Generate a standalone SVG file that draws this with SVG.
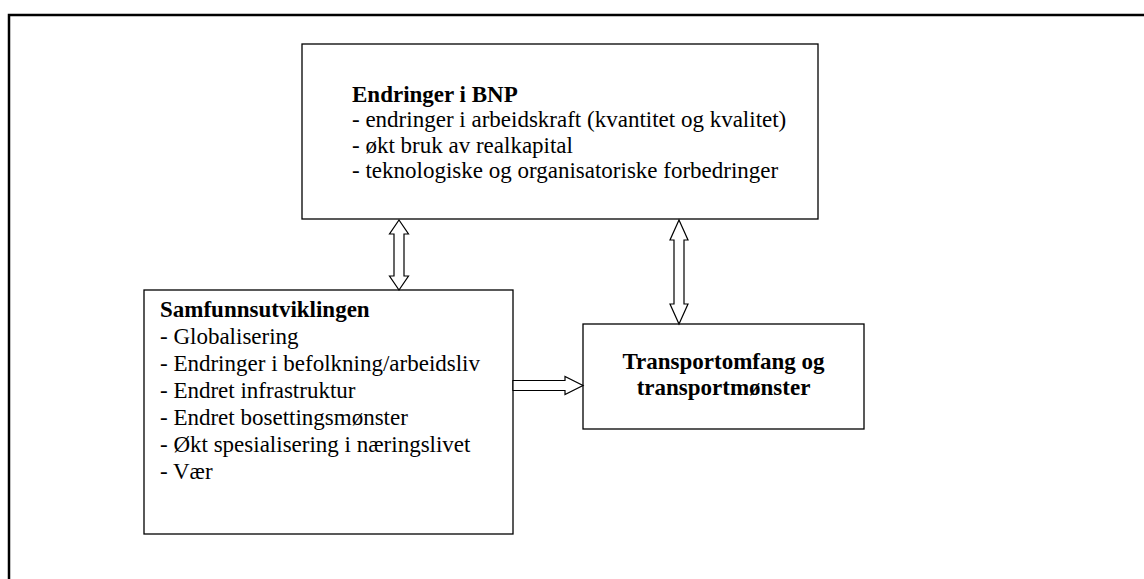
<svg xmlns="http://www.w3.org/2000/svg" width="1144" height="579" viewBox="0 0 1144 579">
<style>
.box{fill:#fff;stroke:#000;stroke-width:1.3}
.arr{fill:#fff;stroke:#000;stroke-width:1.2;stroke-linejoin:miter}
text{font-family:"Liberation Serif","Times New Roman",serif;font-size:23px;fill:#000}
.b{font-weight:bold}
</style>
<rect width="1144" height="579" fill="#fff"/>
<path d="M9 579 V15 H1144" fill="none" stroke="#000" stroke-width="2.5"/>
<g id="bnp">
<rect class="box" x="302" y="44" width="516" height="175"/>
<text x="352" y="102" class="b">Endringer i BNP</text>
<text x="352" y="127">- endringer i arbeidskraft (kvantitet og kvalitet)</text>
<text x="352" y="152.5">- økt bruk av realkapital</text>
<text x="352" y="178">- teknologiske og organisatoriske forbedringer</text>
</g>
<g id="samfunn">
<rect class="box" x="144" y="290" width="369" height="244"/>
<text x="160" y="317" class="b">Samfunnsutviklingen</text>
<text x="160" y="344">- Globalisering</text>
<text x="160" y="371">- Endringer i befolkning/arbeidsliv</text>
<text x="160" y="398">- Endret infrastruktur</text>
<text x="160" y="425">- Endret bosettingsmønster</text>
<text x="160" y="452">- Økt spesialisering i næringslivet</text>
<text x="160" y="479">- Vær</text>
</g>
<g id="transport">
<rect class="box" x="583" y="324" width="281" height="105"/>
<text x="723.5" y="369" class="b" text-anchor="middle">Transportomfang og</text>
<text x="723.5" y="395" class="b" text-anchor="middle">transportmønster</text>
</g>
<g id="connectors">
<path class="arr" d="M399 220 L408.5 234 H404 V276 H408.5 L399 290 L389.5 276 H394 V234 H389.5 Z"/>
<path class="arr" d="M679 220 L688 240 H684 V304 H688 L679 324 L670 304 H674 V240 H670 Z"/>
<path class="arr" d="M513 380.5 H565 V376.5 L583 385.5 L565 394.5 V390.5 H513 Z"/>
</g>
</svg>
